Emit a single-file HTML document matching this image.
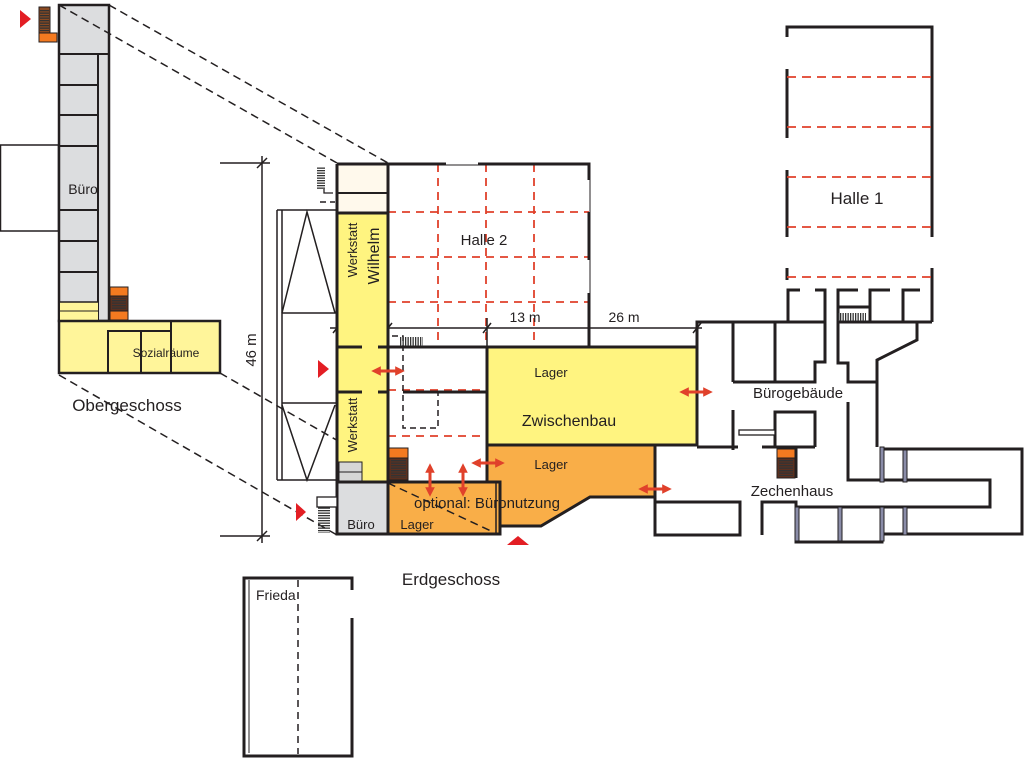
<!DOCTYPE html>
<html><head><meta charset="utf-8"><style>
html,body{margin:0;padding:0;background:#fff;width:1024px;height:759px;overflow:hidden}
svg{display:block}
text{font-family:"Liberation Sans",sans-serif;fill:#231f20}
</style></head><body>
<svg width="1024" height="759" viewBox="0 0 1024 759" xmlns="http://www.w3.org/2000/svg">
<defs>
<marker id="ah" viewBox="0 0 10 10" refX="5" refY="5" markerWidth="3.2" markerHeight="3.2" orient="auto-start-reverse"><path d="M0,0 L10,5 L0,10 z" fill="#e0412b"/></marker>
<pattern id="st" width="2.5" height="4" patternUnits="userSpaceOnUse"><rect width="1.3" height="4" fill="#333"/></pattern>
<pattern id="sth" width="4" height="2.5" patternUnits="userSpaceOnUse"><rect width="4" height="1.3" fill="#333"/></pattern>
</defs>

<!-- ===== Obergeschoss ===== -->
<rect x="0.5" y="145" width="58" height="86" fill="#fff" stroke="#231f20" stroke-width="1.5"/>
<rect x="59" y="5" width="50" height="316" fill="#dcdddf" stroke="#231f20" stroke-width="2.5"/>
<g stroke="#231f20" stroke-width="2" fill="none">
<line x1="59" y1="54" x2="109" y2="54"/>
<line x1="98" y1="54" x2="98" y2="321"/>
<line x1="59" y1="85" x2="98" y2="85"/><line x1="59" y1="115" x2="98" y2="115"/><line x1="59" y1="146" x2="98" y2="146"/>
<line x1="59" y1="210" x2="98" y2="210"/><line x1="59" y1="241" x2="98" y2="241"/><line x1="59" y1="272" x2="98" y2="272"/>
</g>
<rect x="60" y="302" width="38" height="18" fill="#fff59a"/>
<line x1="60" y1="302" x2="98" y2="302" stroke="#231f20" stroke-width="1.5"/>
<line x1="60" y1="311" x2="98" y2="311" stroke="#231f20" stroke-width="1"/>
<rect x="59" y="321" width="161" height="52" fill="#fff59a" stroke="#231f20" stroke-width="2.5"/>
<g stroke="#231f20" stroke-width="2" fill="none">
<polyline points="108,373 108,331 171,331"/><line x1="171" y1="321" x2="171" y2="373"/><line x1="141" y1="331" x2="141" y2="373"/>
</g>
<text x="83" y="194" font-size="14" text-anchor="middle">Büro</text>
<text x="166" y="357" font-size="12" text-anchor="middle">Sozialräume</text>
<rect x="39" y="7" width="11" height="26" fill="#8a4a22" stroke="#231f20"/>
<rect x="40" y="9" width="9" height="22" fill="url(#sth)"/>
<rect x="39" y="33" width="18" height="9" fill="#f47a20" stroke="#231f20"/>
<rect x="110" y="287" width="18" height="9" fill="#f47a20" stroke="#231f20"/>
<rect x="110" y="296" width="18" height="15" fill="#5a3020" stroke="#231f20"/>
<rect x="112" y="298" width="14" height="12" fill="url(#sth)"/>
<rect x="110" y="311" width="18" height="9" fill="#f47a20" stroke="#231f20"/>
<polygon points="20,10 31,19 20,28" fill="#e31e24"/>
<text x="127" y="411" font-size="17" text-anchor="middle">Obergeschoss</text>

<g stroke="#231f20" stroke-width="1.5" stroke-dasharray="8,5" fill="none">
<line x1="59" y1="5" x2="337" y2="163"/>
<line x1="109" y1="5" x2="388" y2="163"/>
<line x1="220" y1="373" x2="493" y2="530"/>
<line x1="59" y1="375" x2="337" y2="535"/>
</g>

<g stroke="#231f20" stroke-width="1.5">
<line x1="262" y1="156" x2="262" y2="543"/>
<line x1="220" y1="163" x2="270" y2="163"/>
<line x1="220" y1="536" x2="270" y2="536"/>
<line x1="257" y1="168" x2="267" y2="158"/>
<line x1="257" y1="541" x2="267" y2="531"/>
</g>
<text x="0" y="0" font-size="15" transform="translate(256,350) rotate(-90)" text-anchor="middle">46 m</text>

<g stroke="#231f20" stroke-width="1.5" fill="none">
<line x1="277" y1="210" x2="277" y2="480"/><line x1="282" y1="210" x2="282" y2="480"/>
<line x1="277" y1="210" x2="337" y2="210"/>
<line x1="282" y1="313" x2="337" y2="313"/>
<line x1="282" y1="403" x2="337" y2="403"/>
<line x1="277" y1="480" x2="337" y2="480"/>
<polyline points="282,313 307,212 335,313"/>
<polyline points="282,405 307,480 335,405"/>
</g>

<!-- Halle 2 -->
<g stroke="#e0412b" stroke-width="1.8" stroke-dasharray="8,6" fill="none">
<line x1="438" y1="164" x2="438" y2="347"/><line x1="486" y1="164" x2="486" y2="347"/><line x1="534" y1="164" x2="534" y2="347"/>
<line x1="388" y1="212" x2="589" y2="212"/><line x1="388" y1="257" x2="589" y2="257"/><line x1="388" y1="302" x2="589" y2="302"/>
<line x1="388" y1="390" x2="487" y2="390" />
<line x1="388" y1="436" x2="487" y2="436"/>
</g>
<g stroke="#231f20" stroke-width="1" fill="none">
<line x1="446" y1="165" x2="478" y2="165"/>
<line x1="590" y1="180" x2="590" y2="212"/>
<line x1="590" y1="260" x2="590" y2="293"/>
</g>
<g stroke="#231f20" stroke-width="3" fill="none">
<polyline points="388,164 446,164"/><polyline points="478,164 589,164 589,180"/>
<line x1="589" y1="212" x2="589" y2="260"/><line x1="589" y1="293" x2="589" y2="347"/>
</g>
<text x="484" y="245" font-size="15" text-anchor="middle">Halle 2</text>

<g stroke="#231f20" stroke-width="1.5">
<line x1="330" y1="328" x2="702" y2="328"/>
<line x1="333" y1="333" x2="341" y2="323"/><line x1="384" y1="333" x2="392" y2="323"/>
<line x1="483" y1="333" x2="491" y2="323"/><line x1="693" y1="333" x2="701" y2="323"/>
<line x1="487" y1="318" x2="487" y2="347"/>
</g>
<text x="360" y="322" font-size="14" text-anchor="middle">6 m</text>
<text x="525" y="322" font-size="14" text-anchor="middle">13 m</text>
<text x="624" y="322" font-size="14" text-anchor="middle">26 m</text>

<rect x="337" y="164" width="51" height="49" fill="#fff9ec"/>
<rect x="337" y="213" width="51" height="270" fill="#fff480"/>
<rect x="339" y="462" width="23" height="20" fill="#d6d6d6" stroke="#231f20" stroke-width="1"/>
<line x1="339" y1="472" x2="362" y2="472" stroke="#231f20" stroke-width="1"/>
<g stroke="#231f20" stroke-width="3" fill="none">
<line x1="337" y1="164" x2="337" y2="535"/><line x1="388" y1="164" x2="388" y2="482"/>
<line x1="337" y1="164" x2="388" y2="164"/>
<line x1="337" y1="193" x2="388" y2="193" stroke-width="2"/>
<line x1="337" y1="213" x2="388" y2="213"/>
<line x1="337" y1="347" x2="362" y2="347"/><line x1="378" y1="347" x2="388" y2="347"/>
<line x1="337" y1="392" x2="362" y2="392"/><line x1="378" y1="392" x2="388" y2="392"/>
<line x1="388" y1="347" x2="487" y2="347"/>
<line x1="403" y1="392" x2="487" y2="392"/>
</g>
<g stroke="#231f20" stroke-width="1.5" stroke-dasharray="6,4" fill="none">
<polyline points="392,336 403,336 403,428 438,428 438,393"/>
<line x1="320" y1="202" x2="335" y2="202"/>
</g>
<rect x="317" y="167" width="8" height="22" fill="url(#sth)"/>
<polyline points="324,189 324,193 333,193" stroke="#231f20" fill="none" stroke-width="1.3"/>
<rect x="399" y="337" width="24" height="9" fill="url(#st)"/>
<text font-size="13" transform="translate(357,250) rotate(-90)" text-anchor="middle">Werkstatt</text>
<text font-size="16" transform="translate(379,256) rotate(-90)" text-anchor="middle">Wilhelm</text>
<text font-size="13" transform="translate(357,425) rotate(-90)" text-anchor="middle">Werkstatt</text>

<rect x="487" y="347" width="210" height="98" fill="#fff480" stroke="#231f20" stroke-width="3"/>
<text x="551" y="377" font-size="13" text-anchor="middle">Lager</text>
<text x="569" y="426" font-size="16" text-anchor="middle">Zwischenbau</text>
<polygon points="487,445 655,445 655,497 590,497 541,526 500,526 500,482 487,482" fill="#f9ae48" stroke="#231f20" stroke-width="3"/>
<text x="551" y="469" font-size="13" text-anchor="middle">Lager</text>
<rect x="337" y="482" width="51" height="52" fill="#dcdddf" stroke="#231f20" stroke-width="3"/>
<rect x="388" y="482" width="112" height="52" fill="#f9ae48" stroke="#231f20" stroke-width="3"/>
<line x1="496" y1="482" x2="496" y2="534" stroke="#231f20" stroke-width="1.5"/>
<text x="361" y="529" font-size="13" text-anchor="middle">Büro</text>
<text x="417" y="529" font-size="13" text-anchor="middle">Lager</text>
<text x="414" y="508" font-size="15">optional: Büronutzung</text>
<line x1="388" y1="483" x2="493" y2="532" stroke="#231f20" stroke-width="1.5" stroke-dasharray="8,5"/>
<rect x="389" y="448" width="19" height="10" fill="#f47a20" stroke="#231f20"/>
<rect x="389" y="458" width="19" height="22" fill="#5a3020" stroke="#231f20"/>
<rect x="391" y="460" width="15" height="18" fill="url(#sth)"/>
<rect x="317" y="497" width="20" height="10" fill="#fff" stroke="#231f20" stroke-width="1.3"/>
<rect x="318" y="507" width="12" height="26" fill="url(#sth)"/>

<g stroke="#231f20" stroke-width="3" fill="none" stroke-linejoin="miter">
<polyline points="697,347 697,322 788,322 788,290 800,290"/>
<line x1="697" y1="322" x2="697" y2="445"/>
<line x1="733" y1="322" x2="733" y2="382"/><line x1="775" y1="322" x2="775" y2="382"/>
<polyline points="788,322 825,322"/>
<polyline points="815,290 825,290 825,362 815,362 815,382 733,382"/>
<line x1="733" y1="410" x2="733" y2="450"/>
<polyline points="775,447 775,412 815,412 815,447"/>
<polyline points="858,290 838,290 838,307 870,307 870,290 890,290"/>
<polyline points="870,307 870,322"/>
<polyline points="920,290 903,290 903,322"/>
<polyline points="838,307 838,363 848,363 848,382 877,382"/>
<polyline points="838,322 932,322"/>
<polyline points="917,322 917,340 877,360 877,447"/>
<polyline points="848,402 848,480 990,480 990,507 796,507"/>
<polyline points="697,447 738,447"/><polyline points="762,447 815,447"/>
<polyline points="655,447 655,535 740,535 740,502 655,502"/>
<polyline points="762,535 762,502 796,502 796,542 882,542 882,534 1022,534 1022,449 882,449 882,447"/>
<line x1="796" y1="447" x2="796" y2="478"/>
</g>
<rect x="739" y="430" width="36" height="5" fill="#fff" stroke="#231f20" stroke-width="1.3"/>
<g fill="#8a8ca8" stroke="#231f20" stroke-width="1">
<rect x="880" y="447" width="4" height="35"/><rect x="903" y="450" width="4" height="32"/>
<rect x="795" y="507" width="4" height="34"/><rect x="838" y="507" width="4" height="34"/>
<rect x="880" y="507" width="4" height="34"/><rect x="903" y="507" width="4" height="28"/>
</g>
<rect x="838" y="313" width="28" height="8" fill="url(#st)"/>
<rect x="777" y="449" width="18" height="9" fill="#f47a20" stroke="#231f20"/>
<rect x="777" y="458" width="18" height="20" fill="#5a3020" stroke="#231f20"/>
<rect x="779" y="460" width="14" height="16" fill="url(#sth)"/>
<text x="798" y="398" font-size="15" text-anchor="middle">Bürogebäude</text>
<text x="792" y="496" font-size="15" text-anchor="middle">Zechenhaus</text>

<g stroke="#231f20" stroke-width="3" fill="none">
<polyline points="787,37 787,27 932,27 932,237"/>
<line x1="932" y1="268" x2="932" y2="322"/>
<line x1="787" y1="69" x2="787" y2="138"/><line x1="787" y1="170" x2="787" y2="237"/><line x1="787" y1="268" x2="787" y2="280"/>
</g>
<g stroke="#e0412b" stroke-width="1.8" stroke-dasharray="9,6">
<line x1="787" y1="77" x2="932" y2="77"/><line x1="787" y1="127" x2="932" y2="127"/><line x1="787" y1="177" x2="932" y2="177"/>
<line x1="787" y1="227" x2="932" y2="227"/><line x1="787" y1="277" x2="932" y2="277"/>
</g>
<text x="857" y="204" font-size="17" text-anchor="middle">Halle 1</text>

<g stroke="#e0412b" stroke-width="3" marker-start="url(#ah)" marker-end="url(#ah)">
<line x1="376" y1="371" x2="400" y2="371"/>
<line x1="430" y1="468" x2="430" y2="492"/>
<line x1="463" y1="468" x2="463" y2="492"/>
<line x1="476" y1="463" x2="500" y2="463"/>
<line x1="684" y1="392" x2="708" y2="392"/>
<line x1="643" y1="489" x2="667" y2="489"/>
</g>
<polygon points="318,360 329,369 318,378" fill="#e31e24"/>
<polygon points="296,503 306,512 296,521" fill="#e31e24"/>
<polygon points="507,545 518,536 529,545" fill="#e31e24"/>

<text x="451" y="585" font-size="17" text-anchor="middle">Erdgeschoss</text>

<rect x="244" y="578" width="108" height="178" fill="#fff" stroke="#231f20" stroke-width="3"/>
<line x1="249" y1="580" x2="249" y2="753" stroke="#231f20" stroke-width="1"/>
<rect x="348" y="590" width="8" height="28" fill="#fff"/>
<line x1="298" y1="580" x2="298" y2="754" stroke="#231f20" stroke-width="1.5" stroke-dasharray="7,5"/>
<text x="256" y="600" font-size="14">Frieda</text>
</svg>
</body></html>
